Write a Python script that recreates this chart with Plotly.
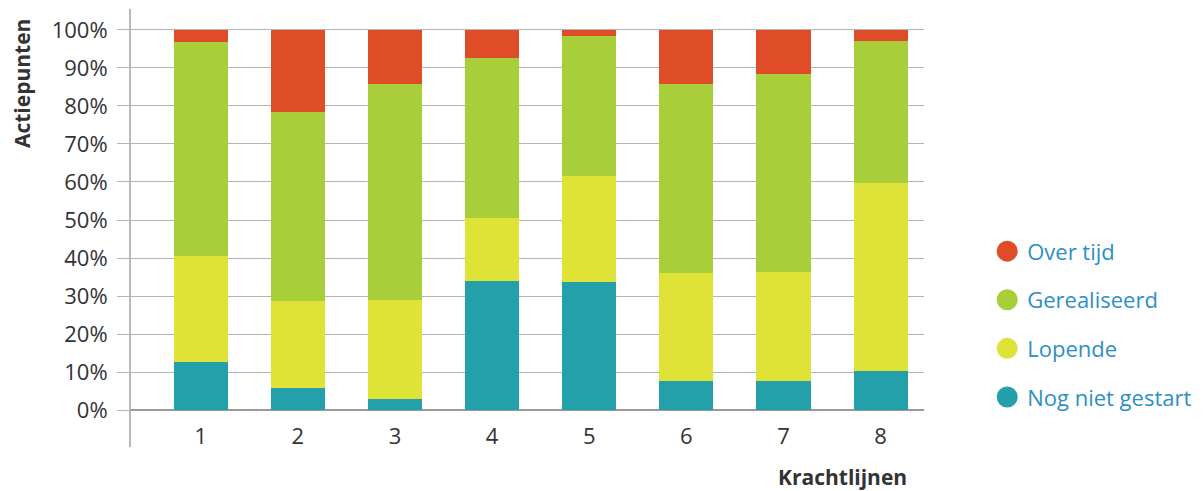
import plotly.graph_objects as go

categories = [1, 2, 3, 4, 5, 6, 7, 8]
nog_niet_gestart = [12.7, 5.9, 3.0, 34.0, 33.8, 7.7, 7.7, 10.3]
lopende = [27.8, 22.9, 26.0, 16.4, 27.9, 28.4, 28.7, 49.5]
gerealiseerd = [56.2, 49.6, 56.9, 42.3, 36.8, 49.8, 52.1, 37.4]
over_tijd = [3.3, 21.6, 14.1, 7.3, 1.5, 14.1, 11.5, 2.8]
y_ticks = [0, 10, 20, 30, 40, 50, 60, 70, 80, 90, 100]
y_tick_labels = [f"{v}%" for v in y_ticks]

series = [
    ("Nog niet gestart", nog_niet_gestart, "#23a0aa"),
    ("Lopende", lopende, "#e0e337"),
    ("Gerealiseerd", gerealiseerd, "#a8cf3a"),
    ("Over tijd", over_tijd, "#de4d27"),
]

FONT = "Open Sans"
fig = go.Figure()
for name, vals, col in series:
    fig.add_trace(go.Bar(x=categories, y=vals, name=name, marker=dict(color=col, line=dict(width=0)),
                         width=0.557, showlegend=False))

for name, vals, col in reversed(series):
    fig.add_trace(go.Scatter(x=[None], y=[None], mode="markers", name=name, legendgroup=name,
                             marker=dict(symbol="circle", size=16, color=col, line=dict(color=col, width=5))))

fig.update_layout(
    barmode="stack",
    width=1196, height=483,
    margin=dict(l=122, r=280, t=20, b=79, autoexpand=False),
    plot_bgcolor="white", paper_bgcolor="white",
    font=dict(family=FONT, size=22, color="#333333"),
    legend=dict(x=1.0796, xanchor="left", y=0.473, yanchor="top", traceorder="grouped",
                tracegroupgap=17, font=dict(family=FONT, size=22, color="#2e8fc5"),
                bgcolor="rgba(0,0,0,0)"),
    xaxis=dict(range=[0.272, 8.447], tickvals=categories, ticktext=[str(c) for c in categories],
               showgrid=False, zeroline=False, showline=False, ticks="", ticklabelstandoff=9,
               tickfont=dict(size=22, color="#333333"), fixedrange=True, automargin=False),
    yaxis=dict(range=[-0.5, 100.5], tickvals=y_ticks, ticktext=y_tick_labels,
               showgrid=True, gridcolor="#b4b4b4", gridwidth=1.3,
               zeroline=True, zerolinecolor="#9a9a9a", zerolinewidth=1.6,
               showline=False, ticks="outside", ticklen=12, tickcolor="#b4b4b4", tickwidth=1.3,
               ticklabelstandoff=5, tickfont=dict(size=22, color="#333333"), fixedrange=True,
               automargin=False),
    shapes=[dict(type="line", xref="paper", yref="paper", x0=0, x1=0,
                 y0=-0.092, y1=1.05, line=dict(color="#a8a8a8", width=1.6))],
    annotations=[
        dict(text="<b>Actiepunten</b>", xref="paper", yref="paper", x=-0.136, y=0.854,
             textangle=-90, showarrow=False, font=dict(family=FONT, size=21, color="#333333"),
             xanchor="center", yanchor="middle"),
        dict(text="<b>Krachtlijnen</b>", xref="paper", yref="paper", x=0.897, y=-0.168,
             showarrow=False, font=dict(family=FONT, size=21, color="#333333"),
             xanchor="center", yanchor="middle"),
    ],
)

fig.write_html("out.html")
